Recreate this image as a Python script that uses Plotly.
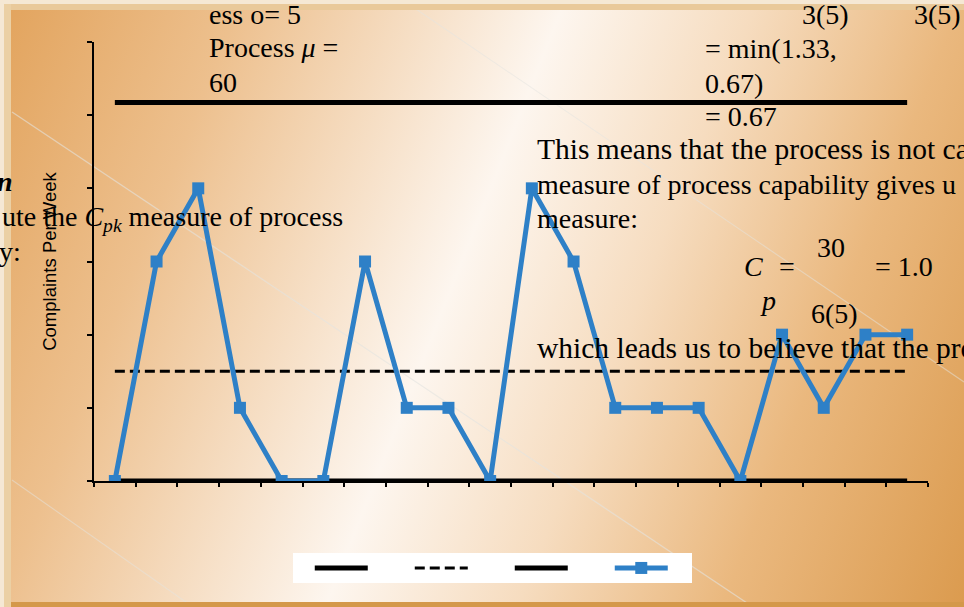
import base64
import math
import plotly.graph_objects as go

# ---------------- data ----------------
weeks = list(range(1, 21))
complaints = [0, 3, 4, 1, 0, 0, 3, 1, 1, 0, 4, 3, 1, 1, 1, 0, 2, 1, 2, 2]
y_ticks = [0, 1, 2, 3, 4, 5, 6]
y_title = "Complaints Per Week"

center = sum(complaints) / len(complaints)          # 1.5
ucl = center + 3 * math.sqrt(center)                # ~5.17
lcl = max(0.0, center - 3 * math.sqrt(center))      # 0

# ---------------- geometry helpers (figure pixels -> paper) ----------------
W, H = 964, 607
ML, MR, MT, MB = 94, 36, 42, 126
PW, PH = W - ML - MR, H - MT - MB


def px(x):
    return (x - ML) / PW


def py(y):
    return (H - MB - y) / PH


# ---------------- background (slide gradient) ----------------
svg = f"""<svg xmlns='http://www.w3.org/2000/svg' width='{W}' height='{H}' viewBox='0 0 {W} {H}' preserveAspectRatio='none'>
<defs><linearGradient id='g' gradientUnits='userSpaceOnUse' x1='0' y1='0' x2='1040' y2='411'>
<stop offset='0' stop-color='#e2a35c'/>
<stop offset='0.2' stop-color='#edc08e'/>
<stop offset='0.47' stop-color='#fdf6ef'/>
<stop offset='0.63' stop-color='#f6dcbf'/>
<stop offset='0.8' stop-color='#eab87e'/>
<stop offset='1' stop-color='#db9b4f'/>
</linearGradient></defs>
<rect width='{W}' height='{H}' fill='url(#g)'/>
<line x1='12' y1='112' x2='750' y2='605' stroke='#e4e4e0' stroke-width='1.3' opacity='0.6'/>
<line x1='410' y1='5' x2='964' y2='382' stroke='#e4e4e0' stroke-width='1.1' opacity='0.5'/>
<line x1='12' y1='480' x2='193' y2='607' stroke='#e4e4e0' stroke-width='1.1' opacity='0.5'/>
<rect x='0' y='0' width='{W}' height='4' fill='#f5e8d4'/>
<rect x='4' y='4' width='{W}' height='6' fill='#e9c99a'/>
<rect x='11' y='602' width='{W}' height='5' fill='#d4984a'/>
<rect x='0' y='0' width='4' height='{H}' fill='#f5e8d4'/>
<rect x='4' y='4' width='7' height='{H}' fill='#ebd0a4'/>
</svg>"""
bg_src = "data:image/svg+xml;base64," + base64.b64encode(svg.encode()).decode()

# ---------------- traces ----------------
fig = go.Figure()
fig.add_trace(go.Scatter(x=[weeks[0], weeks[-1]], y=[ucl, ucl], mode="lines", name=" ",
                         line=dict(color="black", width=5), hoverinfo="skip"))
fig.add_trace(go.Scatter(x=[weeks[0], weeks[-1]], y=[center, center], mode="lines", name=" ",
                         line=dict(color="black", width=3, dash="10px,5px"), hoverinfo="skip"))
fig.add_trace(go.Scatter(x=[weeks[0], weeks[-1]], y=[lcl, lcl], mode="lines", name=" ",
                         line=dict(color="black", width=5), hoverinfo="skip"))
fig.add_trace(go.Scatter(x=weeks, y=complaints, mode="lines+markers", name=" ",
                         legendwidth=14,
                         line=dict(color="#2e80c7", width=5),
                         marker=dict(symbol="square", size=12, color="#2e80c7")))

# ---------------- overlaid slide text ----------------
serif = dict(family="Liberation Serif, Times New Roman, serif", size=28, color="black")
serif_wide = dict(family="Liberation Serif, Times New Roman, serif", size=29.5, color="black")
texts = [
    ("ess o= 5", 207, 15, serif),
    ("Process <i>μ</i> =", 207, 48, serif),
    ("60", 207, 82, serif),
    ("3(5)", 800, 15, serif),
    ("3(5)", 912, 15, serif),
    ("= min(1.33,", 703, 49, serif),
    ("0.67)", 703, 83, serif),
    ("= 0.67", 703, 116, serif),
    ("This means that the process is not ca", 535, 149, serif_wide),
    ("measure of process capability gives u", 535, 184, serif),
    ("measure:", 535, 218, serif),
    ("<i>C</i>", 742, 266, serif),
    ("=", 777, 266, serif),
    ("30", 815, 247, serif),
    ("= 1.0", 873, 266, serif),
    ("<i>p</i>", 758, 300, serif),
    ("6(5)", 809, 313, serif),
    ("which leads us to believe that the pro", 535, 348, serif_wide),
    ("<b><i>n</i></b>", -5, 181, serif),
    ("ute the <i>C<sub>pk</sub></i> measure of process", 0, 218, serif),
    ("y:", -3, 251, serif),
]
annotations = [
    dict(text=t, x=px(x), y=py(y), xref="paper", yref="paper", xanchor="left",
         yanchor="middle", showarrow=False, font=f)
    for t, x, y, f in texts
]

fig.update_layout(
    width=W, height=H,
    margin=dict(l=ML, r=MR, t=MT, b=MB),
    paper_bgcolor="#f0d0a8",
    plot_bgcolor="rgba(0,0,0,0)",
    images=[dict(source=bg_src, xref="paper", yref="paper", x=px(0), y=py(0),
                 sizex=W / PW, sizey=H / PH, xanchor="left", yanchor="top",
                 sizing="stretch", layer="below")],
    xaxis=dict(range=[0.5, 20.5], tickvals=[w + 0.5 for w in [0] + weeks],
               showticklabels=False, ticks="outside", ticklen=4, tickwidth=1.5,
               tickcolor="black", showline=True, linecolor="black", linewidth=1.5,
               showgrid=False, zeroline=False, fixedrange=True),
    yaxis=dict(range=[0, 6], tickvals=y_ticks, showticklabels=False, ticks="outside",
               ticklen=5, tickwidth=1.5, tickcolor="black", showline=True,
               linecolor="black", linewidth=2, showgrid=False, zeroline=False,
               title=dict(text=y_title, standoff=26,
                          font=dict(family="Liberation Sans, Arial, sans-serif", size=18.5,
                                    color="black"))),
    showlegend=True,
    legend=dict(orientation="h", x=px(293), y=py(553), xanchor="left", yanchor="top",
                bgcolor="white", borderwidth=0, itemwidth=53, entrywidth=32,
                title=dict(text="\u00a0\u00a0", side="left", font=dict(size=13)),
                font=dict(size=13), traceorder="normal"),
    annotations=annotations,
)

fig.write_html("out.html", config={"displayModeBar": False},
               post_script="document.body.style.margin='0';")
